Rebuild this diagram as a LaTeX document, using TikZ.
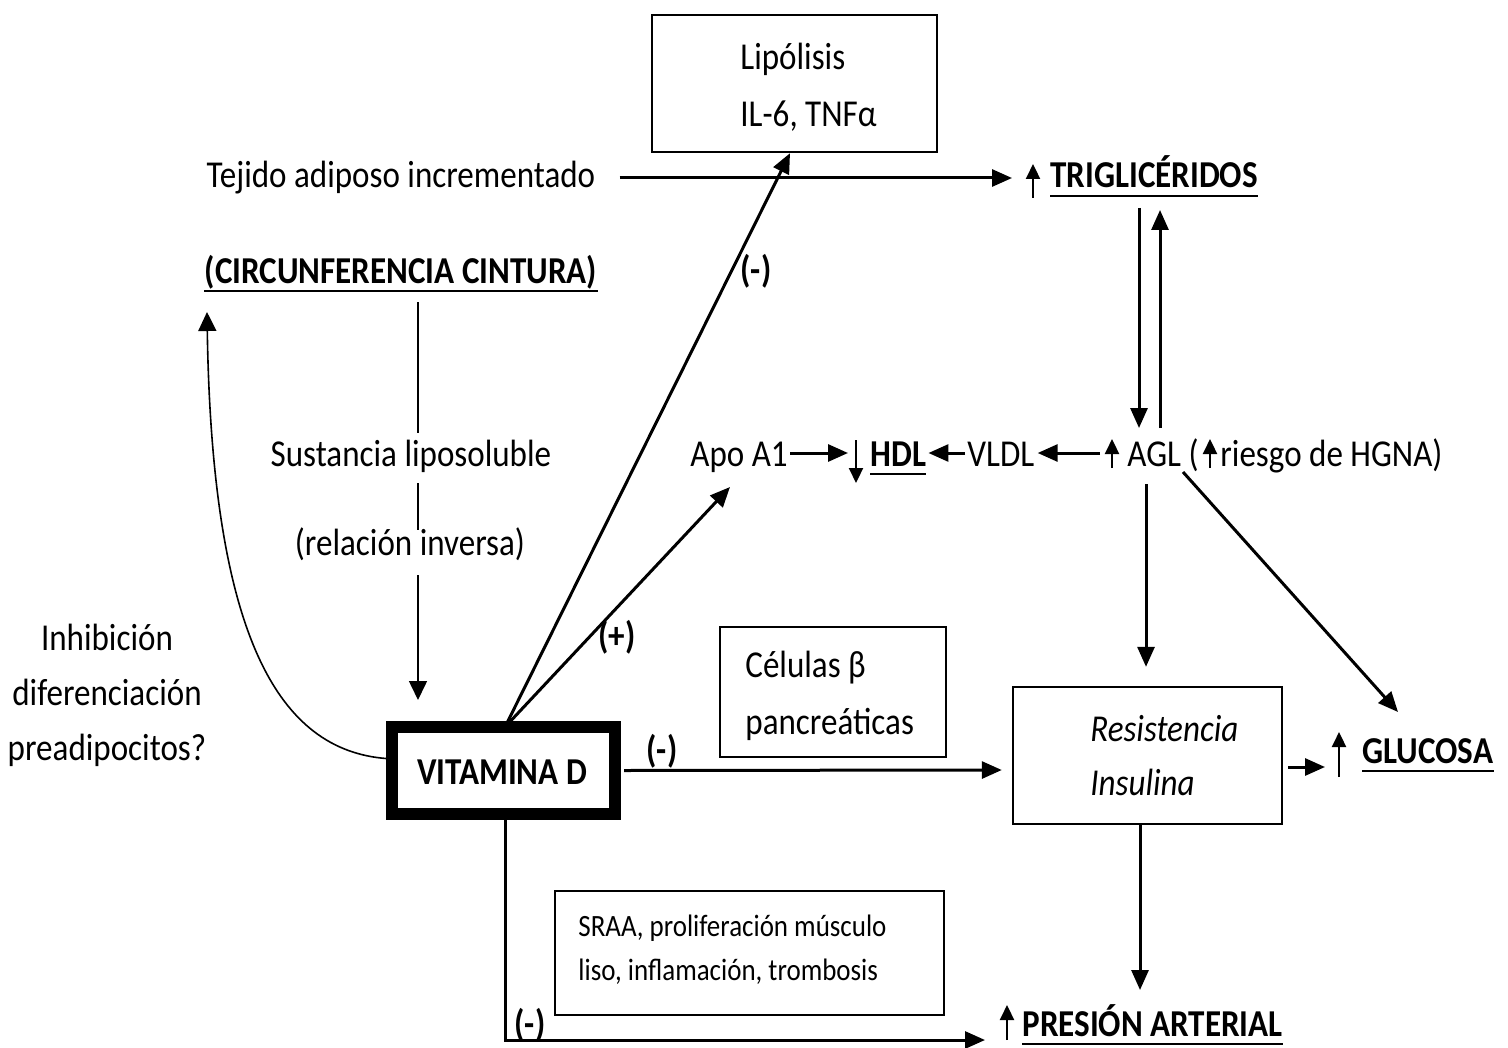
\documentclass[tikz,border=0pt]{standalone}
\usepackage{fontspec}
\setmainfont{Carlito}[FakeStretch=0.87]
\usetikzlibrary{arrows.meta}
\tikzset{
  txt/.style={inner sep=0pt, font=\fontsize{19}{22}\selectfont},
  btxt/.style={inner sep=0pt, font=\fontsize{19}{22}\selectfont\bfseries},
  stxt/.style={inner sep=0pt, font=\fontsize{15.5}{18}\selectfont},
  box/.style={draw, line width=1.2pt, inner sep=0pt},
  arr/.style={-{Triangle[length=10pt,width=8.5pt]}, line width=1.5pt},
  tarr/.style={-{Triangle[length=9.5pt,width=9pt]}, line width=0.8pt},
  tline/.style={line width=0.8pt},
  ua/.style={-{Triangle[length=7.5pt,width=7pt]}, line width=1.1pt},
  ul/.style={line width=1pt}
}
\begin{document}
\begin{tikzpicture}[x=0.5pt,y=-0.5pt]
\useasboundingbox (0,0) rectangle (1508,1048);
% boxes
\node[box, minimum width=142.5pt, minimum height=68.5pt] (lip) at (794.5,83.5) {};
\node[box, line width=6pt, minimum width=111.5pt, minimum height=43.5pt] (vitd) at (503.5,770.5) {};
\node[box, minimum width=134.5pt, minimum height=68.5pt] (res) at (1147.5,755.5) {};
\node[box, minimum width=113pt, minimum height=65pt] (cel) at (833,692) {};
\node[box, minimum width=194.5pt, minimum height=62pt] (sraa) at (749.5,953) {};
% texts
\node[txt, anchor=base west] (lip1) at (740,70) {Lipólisis};
\node[txt, anchor=base west] (lip2) at (740,127) {IL-6, TNFα};
\node[txt, anchor=base] (tejido) at (401,188) {Tejido adiposo incrementado};
\node[btxt, anchor=base west] (trig) at (1050,188) {TRIGLICÉRIDOS};
\node[btxt, anchor=base] (circ) at (401,283) {(CIRCUNFERENCIA CINTURA)};
\node[txt, anchor=base] (sust) at (411,466) {Sustancia liposoluble};
\node[txt, anchor=base] (rel) at (410,555) {(relación inversa)};
\node[txt, anchor=base west] (apo) at (690,466) {Apo A1};
\node[btxt, anchor=base west] (hdl) at (870,466) {HDL};
\node[txt, anchor=base west] (vldl) at (967,466) {VLDL};
\node[txt, anchor=base west] (agl) at (1127,466) {AGL (};
\node[txt, anchor=base west] (risk) at (1220,466) {riesgo de HGNA)};
\node[txt, anchor=base] (inh1) at (107,650) {Inhibición};
\node[txt, anchor=base] (inh2) at (107,705) {diferenciación};
\node[txt, anchor=base] (inh3) at (107,760) {preadipocitos?};
\node[btxt, anchor=base] (m1) at (756,282) {(-)};
\node[btxt, anchor=base] (p1) at (617,648) {(+)};
\node[btxt, anchor=base] (m2) at (662,762) {(-)};
\node[btxt, anchor=base] (m3) at (530,1036) {(-)};
\node[txt, anchor=base west] (cel1) at (745,677) {Células β};
\node[txt, anchor=base west] (cel2) at (745,734) {pancreáticas};
\node[btxt, anchor=base] (vit) at (502,784) {VITAMINA D};
\node[txt, anchor=base west, font=\fontsize{19}{22}\selectfont\itshape] (res1) at (1090,741) {Resistencia};
\node[txt, anchor=base west, font=\fontsize{19}{22}\selectfont\itshape] (res2) at (1090,795) {Insulina};
\node[btxt, anchor=base west] (glu) at (1362,763) {GLUCOSA};
\node[stxt, anchor=base west] (sr1) at (578,936) {SRAA, proliferación músculo};
\node[stxt, anchor=base west] (sr2) at (578,980) {liso, inflamación, trombosis};
\node[btxt, anchor=base west] (pres) at (1022,1036) {PRESIÓN ARTERIAL};
% underlines
\foreach \n in {trig,circ,hdl,glu,pres}{
  \draw[ul] ([yshift=-4.2pt]\n.base west) -- ([yshift=-4.2pt]\n.base east);
}
% connectors
\draw[arr] ([xshift=12pt,yshift=5pt]tejido.base east) -- ([xshift=-19pt,yshift=5pt]trig.base west);
\draw[ua] ([xshift=-8.5pt,yshift=-5pt]trig.base west) -- ([xshift=-8.5pt,yshift=12pt]trig.base west);
\draw[arr] ([xshift=44.5pt,yshift=-10pt]trig.base west) -- ([xshift=6pt,yshift=19pt]agl.base west);
\draw[arr] ([xshift=16.5pt,yshift=19pt]agl.base west) -- ([xshift=55pt,yshift=-11pt]trig.base west);
\draw[tline] ([xshift=8.5pt,yshift=-9.5pt]circ.base) -- ([xshift=3.5pt,yshift=16.5pt]sust.base);
\draw[tline] ([xshift=3.5pt,yshift=-8.5pt]sust.base) -- ([xshift=4pt,yshift=12.5pt]rel.base);
\draw[tarr] ([xshift=4pt,yshift=-10pt]rel.base) -- ([xshift=-42.75pt,yshift=10.5pt]vitd.north);
\draw[tarr] ([yshift=6pt]vitd.west) .. controls (280,750) and (212,640) .. ([xshift=-97pt,yshift=-14.5pt]circ.base);
\draw[arr] ([xshift=0.75pt,yshift=-3pt]vitd.north) -- ([xshift=-2.25pt]lip.south);
\draw[arr] ([xshift=0.75pt,yshift=-3pt]vitd.north) -- ([xshift=20pt,yshift=-10.5pt]apo.base west);
\draw[arr] ([xshift=1pt,yshift=6.5pt]apo.base east) -- ([xshift=-11pt,yshift=6.5pt]hdl.base west);
\draw[ua] ([xshift=-7pt,yshift=13pt]hdl.base west) -- ([xshift=-7pt,yshift=-8.5pt]hdl.base west);
\draw[arr] ([xshift=-1pt,yshift=6.5pt]vldl.base west) -- ([xshift=1pt,yshift=6.5pt]hdl.base east);
\draw[arr] ([xshift=-13.5pt,yshift=6.5pt]agl.base west) -- ([xshift=1.5pt,yshift=6.5pt]vldl.base east);
\draw[ua] ([xshift=-7.5pt,yshift=-1pt]agl.base west) -- ([xshift=-7.5pt,yshift=13.5pt]agl.base west);
\draw[ua] ([xshift=-5pt,yshift=-1pt]risk.base west) -- ([xshift=-5pt,yshift=13.5pt]risk.base west);
\draw[arr] ([xshift=9.5pt,yshift=-9pt]agl.base west) -- ([xshift=-0.75pt,yshift=9.5pt]res.north);
\draw[arr] ([xshift=28pt,yshift=-3pt]agl.base west) -- ([xshift=18pt,yshift=25.5pt]glu.base west);
\draw[arr] ([xshift=2.5pt,yshift=-5.75pt]res.east) -- ([xshift=-18.5pt,yshift=-2pt]glu.base west);
\draw[ua] ([xshift=-11.5pt,yshift=-7pt]glu.base west) -- ([xshift=-11.5pt,yshift=15.5pt]glu.base west);
\draw[arr] ([xshift=1.5pt]vitd.east) -- ([xshift=-5pt,yshift=-7.25pt]res.west);
\draw[arr] ([xshift=-3.75pt]res.south) -- ([xshift=59pt,yshift=23pt]pres.base west);
\draw[ua] ([xshift=-7.5pt,yshift=-2pt]pres.base west) -- ([xshift=-7.5pt,yshift=15.5pt]pres.base west);
\draw[arr] ([xshift=0.75pt]vitd.south) |- ([xshift=-18.5pt,yshift=-2pt]pres.base west);
\end{tikzpicture}
\end{document}
